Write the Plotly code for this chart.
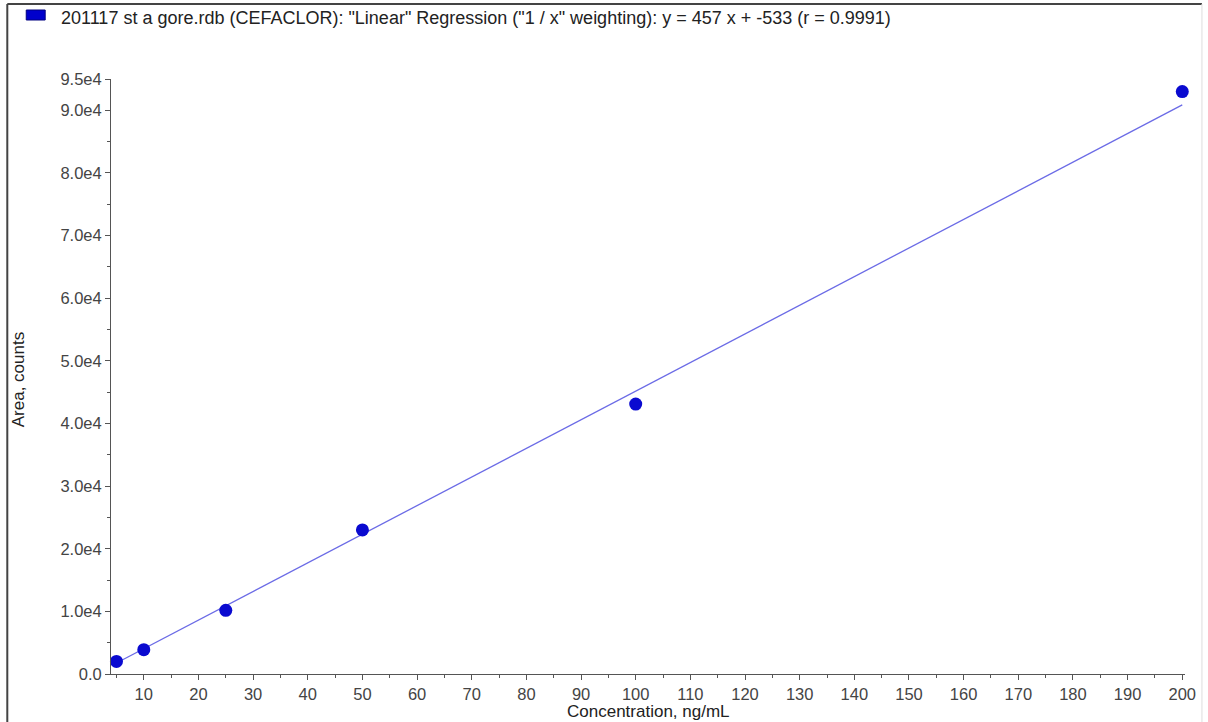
import plotly.graph_objects as go

# calibration standards
conc = [5, 10, 25, 50, 100, 200]
area = [2010, 3880, 10160, 23000, 43100, 93000]

# regression reported by the software
slope = 457
intercept = -533
r_value = 0.9991
line_x = [5, 200]
line_y = [slope * v + intercept for v in line_x]

y_tickvals = [0, 1e4, 2e4, 3e4, 4e4, 5e4, 6e4, 7e4, 8e4, 9e4, 9.5e4]
y_ticktext = ["0.0", "1.0e4", "2.0e4", "3.0e4", "4.0e4", "5.0e4",
              "6.0e4", "7.0e4", "8.0e4", "9.0e4", "9.5e4"]
x_tickvals = list(range(10, 201, 10))

W, H = 1208, 722
ML, MR, MT, MB = 111, 20, 79, 48
PW, PH = W - ML - MR, H - MT - MB


def px(x):
    return (x - ML) / PW


def py(y):
    return (H - MB - y) / PH


fig = go.Figure()

fig.add_trace(go.Scatter(x=line_x, y=line_y, mode='lines',
                         line=dict(color='#6b6be6', width=1.3),
                         showlegend=False, hoverinfo='skip'))

fig.add_trace(go.Scatter(x=conc, y=area, mode='markers', cliponaxis=False,
                         marker=dict(color='#0a0ad0', size=13),
                         showlegend=False))

axis_font = dict(family="Liberation Sans, Arial, sans-serif", size=16.5, color='#444')
text_font = dict(family="Liberation Sans, Arial, sans-serif", size=17, color='#222')

fig.update_layout(
    width=W, height=H,
    margin=dict(l=ML, r=MR, t=MT, b=MB),
    paper_bgcolor='white', plot_bgcolor='white',
    font=axis_font,
    xaxis=dict(range=[4.0, 200.5], tickvals=x_tickvals, showgrid=False,
               zeroline=False, showline=True, linecolor='#555', linewidth=1,
               ticks='outside', ticklen=5, tickcolor='#555',
               minor=dict(tickvals=list(range(5, 200, 10)), ticks='outside',
                          ticklen=3, tickcolor='#555'),
               tickfont=axis_font),
    yaxis=dict(range=[0, 9.5e4], tickvals=y_tickvals, ticktext=y_ticktext,
               showgrid=False, zeroline=False, showline=True, linecolor='#555',
               linewidth=1, ticks='outside', ticklen=5, tickcolor='#555',
               minor=dict(tickvals=[5e3 + 1e4 * i for i in range(9)], ticks='outside',
                          ticklen=3, tickcolor='#555'),
               tickfont=axis_font),
)

# frame around the page
fig.add_shape(type='line', xref='paper', yref='paper',
              x0=px(7), x1=px(7), y0=py(4), y1=py(H), line=dict(color='#444', width=2))
fig.add_shape(type='line', xref='paper', yref='paper',
              x0=px(7), x1=px(1205), y0=py(4), y1=py(4), line=dict(color='#444', width=2))
fig.add_shape(type='line', xref='paper', yref='paper',
              x0=px(1205), x1=px(1205), y0=py(4), y1=py(H), line=dict(color='#ddd', width=1))

# legend swatch and text
fig.add_shape(type='rect', xref='paper', yref='paper',
              x0=px(26), x1=px(45), y0=py(20), y1=py(10),
              fillcolor='#0000cc', line=dict(color='#000080', width=1))
title_text = ('201117 st a gore.rdb (CEFACLOR): "Linear" Regression ("1 / x" weighting): '
              'y = %d x + %d (r = %.4f)' % (slope, intercept, r_value))
fig.add_annotation(xref='paper', yref='paper', x=px(59), y=py(18),
                   xanchor='left', yanchor='middle', showarrow=False,
                   text=title_text, font=dict(text_font, size=18))

# axis titles
fig.add_annotation(xref='paper', yref='paper', x=px(650), y=py(711),
                   xanchor='center', yanchor='middle', showarrow=False,
                   text='Concentration, ng/mL', font=text_font)
fig.add_annotation(xref='paper', yref='paper', x=px(18), y=py(380),
                   xanchor='center', yanchor='middle', showarrow=False, textangle=-90,
                   text='Area, counts', font=text_font)

fig.write_html("out.html", config={'displayModeBar': False},
               post_script="document.body.style.margin='0';")
